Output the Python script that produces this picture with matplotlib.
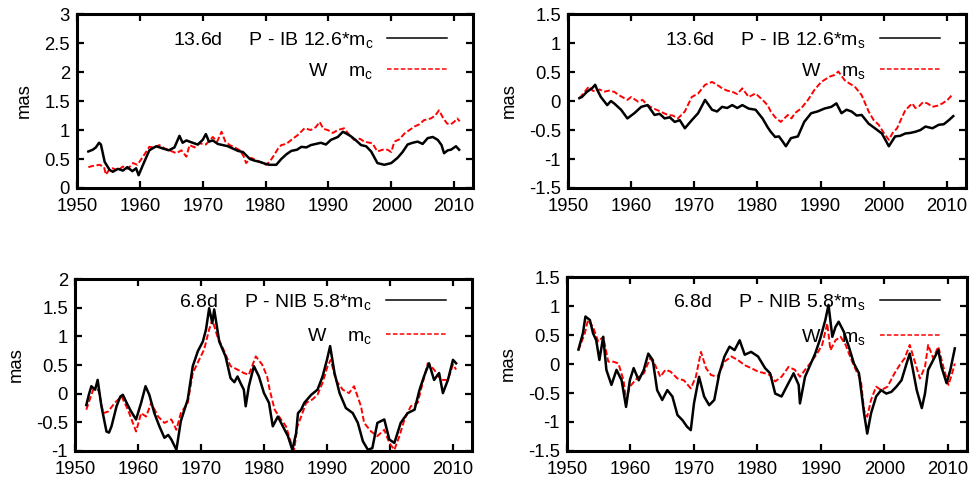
import matplotlib
matplotlib.use('Agg')
import matplotlib.pyplot as plt

plt.rcParams['font.family'] = ['Liberation Sans', 'DejaVu Sans']
plt.rcParams['font.size'] = 13.3

# (year, mas)
tl_black = [(1951.8, 0.63), (1952.5, 0.66), (1953.0, 0.70), (1953.5, 0.78), (1953.8, 0.75), (1954.4, 0.45),
            (1955.2, 0.31), (1955.7, 0.28), (1956.5, 0.33), (1957.3, 0.30), (1958.0, 0.36), (1958.8, 0.29),
            (1959.4, 0.34), (1959.8, 0.22), (1960.5, 0.40), (1961.5, 0.65), (1962.6, 0.72), (1963.7, 0.68),
            (1964.6, 0.65), (1965.5, 0.70), (1966.3, 0.90), (1966.8, 0.78), (1967.4, 0.82), (1968.4, 0.78),
            (1969.2, 0.75), (1970.0, 0.83), (1970.5, 0.93), (1971.0, 0.80), (1971.6, 0.82), (1972.4, 0.76),
            (1973.2, 0.74), (1974.0, 0.72), (1974.8, 0.68), (1975.6, 0.64), (1976.4, 0.62), (1977.5, 0.50),
            (1978.3, 0.47), (1979.1, 0.45), (1979.9, 0.42), (1980.6, 0.40), (1981.7, 0.40), (1982.5, 0.50),
            (1983.3, 0.58), (1984.1, 0.64), (1985.0, 0.66), (1985.7, 0.71), (1986.5, 0.70), (1987.2, 0.74),
            (1988.0, 0.76), (1988.8, 0.78), (1989.6, 0.75), (1990.4, 0.83), (1991.5, 0.88), (1992.3, 0.97),
            (1993.0, 0.93), (1993.6, 0.89), (1994.4, 0.82), (1995.2, 0.74), (1996.0, 0.72), (1996.8, 0.63),
            (1997.8, 0.43), (1998.9, 0.40), (2000.0, 0.43), (2001.0, 0.52), (2001.8, 0.62), (2002.6, 0.75),
            (2003.4, 0.78), (2004.2, 0.80), (2005.0, 0.76), (2005.8, 0.86), (2006.6, 0.88), (2007.4, 0.83),
            (2008.0, 0.74), (2008.4, 0.60), (2009.0, 0.65), (2009.5, 0.66), (2010.3, 0.72), (2010.8, 0.66)]
tl_red = [(1951.8, 0.36), (1952.5, 0.38), (1953.6, 0.40), (1954.3, 0.36), (1954.6, 0.23), (1955.2, 0.33),
          (1955.7, 0.34), (1956.5, 0.30), (1957.3, 0.37), (1958.1, 0.33), (1958.9, 0.43), (1959.6, 0.40),
          (1960.5, 0.54), (1961.5, 0.71), (1962.3, 0.70), (1963.1, 0.74), (1964.0, 0.68), (1964.7, 0.65),
          (1965.8, 0.60), (1966.6, 0.65), (1967.4, 0.54), (1967.9, 0.74), (1968.7, 0.70), (1969.5, 0.77),
          (1970.5, 0.75), (1971.6, 0.88), (1972.3, 0.80), (1973.0, 0.97), (1973.6, 0.80), (1974.3, 0.74),
          (1975.1, 0.70), (1975.9, 0.65), (1976.5, 0.55), (1976.9, 0.43), (1977.7, 0.52), (1978.5, 0.48),
          (1979.3, 0.44), (1980.1, 0.40), (1980.7, 0.46), (1981.2, 0.54), (1982.0, 0.68), (1982.5, 0.74),
          (1983.3, 0.76), (1984.1, 0.83), (1985.2, 0.92), (1986.2, 1.03), (1987.2, 1.00), (1988.0, 1.05),
          (1988.6, 1.14), (1989.2, 1.02), (1989.9, 1.00), (1990.7, 0.95), (1991.5, 1.00), (1992.5, 1.03),
          (1993.3, 0.92), (1994.1, 0.83), (1995.0, 0.85), (1995.7, 0.80), (1997.0, 0.77), (1997.8, 0.63),
          (1998.6, 0.66), (1999.4, 0.66), (2000.0, 0.62), (2000.5, 0.80), (2001.3, 0.84), (2002.1, 0.94),
          (2002.9, 1.00), (2003.7, 1.06), (2004.5, 1.10), (2005.2, 1.17), (2006.3, 1.20), (2007.0, 1.25),
          (2007.6, 1.34), (2008.3, 1.20), (2008.9, 1.11), (2009.5, 1.10), (2010.0, 1.14), (2010.5, 1.20),
          (2010.9, 1.15)]

tr_black = [(1951.8, 0.05), (1952.2, 0.07), (1953.0, 0.16), (1953.8, 0.22), (1954.3, 0.28), (1954.6, 0.20),
            (1955.2, 0.07), (1956.2, -0.07), (1956.8, 0.0), (1957.3, -0.04), (1958.4, -0.15), (1959.4, -0.30),
            (1960.5, -0.21), (1961.6, -0.10), (1962.6, -0.07), (1963.7, -0.24), (1964.5, -0.22), (1965.3, -0.30),
            (1966.1, -0.28), (1966.9, -0.36), (1967.7, -0.33), (1968.5, -0.47), (1969.6, -0.33), (1970.6, -0.21),
            (1971.7, 0.02), (1972.8, -0.15), (1973.6, -0.18), (1974.4, -0.10), (1975.2, -0.12), (1976.0, -0.07),
            (1976.8, -0.12), (1977.6, -0.07), (1978.6, -0.13), (1979.7, -0.15), (1980.8, -0.30), (1981.6, -0.45),
            (1982.1, -0.53), (1982.8, -0.62), (1983.4, -0.61), (1984.0, -0.70), (1984.5, -0.78), (1985.3, -0.64),
            (1986.4, -0.61), (1987.4, -0.36), (1988.5, -0.21), (1989.5, -0.18), (1990.6, -0.13), (1991.7, -0.10),
            (1992.5, -0.04), (1993.3, -0.21), (1994.1, -0.15), (1994.9, -0.18), (1995.7, -0.25), (1996.5, -0.24),
            (1997.6, -0.39), (1998.6, -0.47), (1999.7, -0.56), (2000.3, -0.68), (2000.8, -0.78), (2001.8, -0.61),
            (2002.6, -0.60), (2003.4, -0.56), (2004.2, -0.55), (2005.0, -0.53), (2005.8, -0.50), (2006.6, -0.44),
            (2007.7, -0.47), (2008.7, -0.41), (2009.5, -0.40), (2010.3, -0.33), (2011.0, -0.26)]
tr_red = [(1951.8, 0.05), (1952.2, 0.10), (1952.8, 0.18), (1953.3, 0.25), (1953.9, 0.18), (1954.4, 0.16),
          (1955.0, 0.20), (1955.7, 0.16), (1956.5, 0.18), (1957.3, 0.16), (1958.1, 0.10), (1958.9, 0.05),
          (1959.4, 0.02), (1960.0, 0.07), (1961.1, -0.01), (1961.8, 0.02), (1962.6, -0.07), (1963.4, -0.12),
          (1964.2, -0.16), (1965.0, -0.20), (1965.8, -0.24), (1966.6, -0.25), (1967.4, -0.30), (1968.5, -0.18),
          (1969.6, 0.07), (1970.6, 0.13), (1971.7, 0.28), (1972.8, 0.33), (1973.6, 0.28), (1974.4, 0.22),
          (1975.2, 0.18), (1976.0, 0.16), (1976.8, 0.12), (1977.6, 0.22), (1978.6, 0.07), (1979.7, 0.13),
          (1980.8, 0.02), (1981.6, -0.07), (1982.1, -0.18), (1982.8, -0.28), (1983.7, -0.36), (1984.8, -0.24),
          (1985.4, -0.30), (1985.9, -0.21), (1986.9, -0.13), (1988.0, 0.02), (1989.0, 0.19), (1990.1, 0.33),
          (1991.4, 0.42), (1992.2, 0.45), (1992.8, 0.51), (1993.8, 0.36), (1994.6, 0.30), (1995.4, 0.25),
          (1996.5, 0.10), (1997.6, -0.18), (1998.4, -0.33), (1999.2, -0.41), (2000.0, -0.55), (2000.8, -0.67),
          (2001.4, -0.55), (2002.1, -0.47), (2002.8, -0.30), (2003.4, -0.16), (2004.5, -0.04), (2005.0, -0.12),
          (2005.5, -0.10), (2006.2, -0.02), (2006.9, -0.04), (2007.7, -0.10), (2008.5, -0.08), (2009.3, -0.04),
          (2010.1, 0.02), (2010.6, 0.08), (2010.9, 0.13)]

bl_black = [(1951.8, -0.20), (1952.2, -0.02), (1952.6, 0.13), (1953.2, 0.07), (1953.6, 0.24), (1954.2, -0.22),
            (1955.0, -0.66), (1955.4, -0.68), (1955.8, -0.57), (1956.6, -0.22), (1957.2, -0.05), (1957.6, -0.02),
            (1958.2, -0.16), (1958.9, -0.31), (1959.7, -0.45), (1960.5, -0.16), (1961.2, 0.13), (1961.8, -0.02),
            (1962.6, -0.34), (1963.4, -0.57), (1964.2, -0.77), (1964.8, -0.72), (1965.3, -0.80), (1966.1, -0.98),
            (1966.8, -0.48), (1967.9, -0.10), (1968.7, 0.48), (1969.5, 0.74), (1970.3, 0.91), (1970.8, 1.12),
            (1971.3, 1.49), (1971.8, 1.23), (1972.1, 1.47), (1972.9, 0.91), (1973.9, 0.65), (1974.7, 0.27),
            (1975.3, 0.20), (1975.8, 0.30), (1976.3, 0.18), (1976.8, 0.07), (1977.1, -0.22), (1977.6, 0.13),
            (1978.4, 0.48), (1979.2, 0.30), (1980.0, 0.01), (1980.8, -0.16), (1981.4, -0.57), (1982.2, -0.40),
            (1983.0, -0.57), (1983.8, -0.74), (1984.5, -0.98), (1985.1, -0.69), (1985.4, -0.34), (1985.9, -0.28),
            (1986.4, -0.16), (1987.5, -0.02), (1988.5, 0.07), (1989.3, 0.30), (1990.0, 0.59), (1990.5, 0.83),
            (1991.2, 0.36), (1992.0, 0.01), (1993.0, -0.25), (1994.1, -0.34), (1994.9, -0.51), (1995.7, -0.83),
            (1996.5, -0.98), (1997.2, -0.95), (1998.0, -0.51), (1999.1, -0.45), (1999.9, -0.80), (2000.7, -0.86),
            (2001.7, -0.51), (2002.8, -0.34), (2003.9, -0.28), (2004.7, 0.07), (2005.4, 0.30), (2006.2, 0.53),
            (2007.0, 0.24), (2007.8, 0.36), (2008.4, 0.01), (2009.2, 0.24), (2010.0, 0.59), (2010.5, 0.53)]
bl_red = [(1951.8, -0.28), (1952.2, -0.15), (1952.9, 0.07), (1953.7, 0.07), (1954.5, -0.34), (1955.3, -0.31),
          (1956.3, -0.16), (1957.4, -0.05), (1958.4, -0.28), (1959.7, -0.66), (1960.5, -0.34), (1961.3, -0.40),
          (1962.1, -0.16), (1963.2, -0.40), (1964.2, -0.51), (1965.3, -0.45), (1966.1, -0.63), (1966.8, -0.34),
          (1967.9, -0.16), (1968.7, 0.36), (1969.7, 0.59), (1970.5, 0.77), (1971.3, 1.12), (1971.8, 1.29),
          (1972.6, 1.00), (1973.7, 0.74), (1974.7, 0.48), (1975.8, 0.42), (1976.8, 0.36), (1977.6, 0.33),
          (1978.7, 0.65), (1979.7, 0.51), (1980.5, 0.30), (1980.9, 0.07), (1981.7, -0.28), (1982.7, -0.45),
          (1983.5, -0.57), (1984.3, -0.86), (1984.8, -0.98), (1985.3, -0.57), (1985.9, -0.40), (1986.7, -0.16),
          (1987.7, -0.10), (1988.5, -0.02), (1989.3, 0.19), (1990.1, 0.48), (1990.6, 0.59), (1991.4, 0.24),
          (1992.5, 0.07), (1993.5, 0.01), (1994.3, 0.13), (1995.4, -0.22), (1995.9, -0.51), (1997.0, -0.66),
          (1998.0, -0.74), (1999.1, -0.63), (1999.9, -0.86), (2000.7, -0.98), (2001.5, -0.74), (2002.3, -0.45),
          (2003.3, -0.22), (2004.4, -0.16), (2005.2, 0.19), (2006.0, 0.53), (2007.0, 0.42), (2008.1, 0.24),
          (2009.2, 0.24), (2010.0, 0.51), (2010.5, 0.42)]

br_black = [(1951.8, 0.25), (1952.5, 0.53), (1952.9, 0.82), (1953.6, 0.76), (1954.1, 0.53), (1954.6, 0.41),
            (1955.1, 0.07), (1955.7, 0.47), (1956.2, -0.10), (1957.0, -0.36), (1957.8, -0.10), (1958.6, -0.28),
            (1959.3, -0.74), (1959.9, -0.28), (1960.5, -0.07), (1961.3, -0.28), (1962.1, -0.10), (1962.8, 0.18),
            (1963.5, 0.07), (1964.2, -0.45), (1965.0, -0.62), (1965.8, -0.45), (1966.6, -0.56), (1967.4, -0.88),
            (1968.2, -0.97), (1968.9, -1.08), (1969.5, -1.14), (1970.0, -0.68), (1970.8, -0.22), (1971.6, -0.56),
            (1972.4, -0.71), (1973.2, -0.62), (1974.0, -0.16), (1974.8, 0.13), (1975.6, 0.30), (1976.4, 0.24),
            (1977.2, 0.41), (1978.0, 0.16), (1979.0, 0.21), (1980.1, 0.13), (1981.2, -0.07), (1982.0, -0.16),
            (1982.8, -0.51), (1983.8, -0.56), (1984.6, -0.39), (1985.7, -0.16), (1986.5, -0.36), (1986.7, -0.68),
            (1987.5, -0.22), (1988.3, -0.02), (1989.1, 0.18), (1989.9, 0.44), (1990.7, 0.76), (1991.2, 1.02),
            (1991.8, 0.47), (1992.3, 0.64), (1992.8, 0.73), (1993.6, 0.56), (1994.4, 0.30), (1995.2, 0.01),
            (1996.0, -0.16), (1996.8, -0.85), (1997.3, -1.20), (1997.9, -0.85), (1998.7, -0.56), (1999.5, -0.45),
            (2000.3, -0.51), (2001.1, -0.48), (2001.9, -0.39), (2002.7, -0.28), (2003.5, 0.01), (2004.0, 0.18),
            (2004.5, -0.10), (2005.1, -0.45), (2005.9, -0.76), (2006.4, -0.51), (2006.9, -0.10), (2007.7, 0.07),
            (2008.5, 0.24), (2009.0, -0.05), (2009.8, -0.33), (2010.4, -0.10), (2011.1, 0.27)]
br_red = [(1951.8, 0.24), (1952.8, 0.53), (1953.3, 0.76), (1954.1, 0.64), (1954.9, 0.39), (1955.7, 0.47),
          (1956.5, 0.04), (1957.3, 0.04), (1958.1, 0.01), (1958.9, -0.28), (1959.3, -0.62), (1959.9, -0.39),
          (1961.0, -0.25), (1962.1, -0.16), (1963.1, 0.10), (1963.9, -0.02), (1964.7, -0.22), (1965.5, -0.10),
          (1966.3, -0.13), (1967.4, -0.25), (1968.4, -0.28), (1969.5, -0.42), (1970.3, -0.22), (1971.1, 0.21),
          (1971.9, -0.07), (1972.7, -0.19), (1973.7, -0.22), (1974.8, 0.04), (1975.9, 0.13), (1976.9, 0.07),
          (1978.0, -0.02), (1979.0, -0.07), (1980.1, -0.13), (1981.2, -0.16), (1982.0, -0.19), (1982.8, -0.30),
          (1983.8, -0.22), (1984.9, -0.05), (1985.9, -0.10), (1986.7, -0.22), (1987.5, -0.10), (1988.3, 0.01),
          (1989.4, 0.18), (1990.2, 0.33), (1991.0, 0.70), (1991.5, 0.24), (1992.3, 0.41), (1993.1, 0.47),
          (1993.9, 0.33), (1994.7, 0.10), (1995.5, -0.10), (1996.3, -0.28), (1996.8, -0.80), (1997.3, -0.91),
          (1997.9, -0.62), (1998.7, -0.39), (1999.5, -0.45), (2000.5, -0.39), (2001.6, -0.16), (2002.4, -0.02),
          (2003.2, 0.10), (2004.0, 0.33), (2004.8, 0.04), (2005.6, -0.25), (2006.4, -0.05), (2006.9, 0.33),
          (2007.7, 0.10), (2008.5, 0.30), (2009.3, -0.05), (2010.1, -0.36), (2010.6, -0.19), (2011.1, 0.01)]

xticks = [1950, 1960, 1970, 1980, 1990, 2000, 2010]

# panel: axes rect, black data, red data, ylim, yticks, key texts, key rows
panels = [
    ([0.0786, 0.6108, 0.404, 0.360], tl_black, tl_red, (0, 3), [0, 0.5, 1, 1.5, 2, 2.5, 3],
     '13.6d     P - IB 12.6*$\\mathregular{m_c}$', 'W    $\\mathregular{m_c}$', 0.85, 0.672),
    ([0.5796, 0.6108, 0.406, 0.360], tr_black, tr_red, (-1.5, 1.5), [-1.5, -1, -0.5, 0, 0.5, 1, 1.5],
     '13.6d     P - IB 12.6*$\\mathregular{m_s}$', 'W    $\\mathregular{m_s}$', 0.85, 0.672),
    ([0.0765, 0.0663, 0.405, 0.356], bl_black, bl_red, (-1, 2), [-1, -0.5, 0, 0.5, 1, 1.5, 2],
     '6.8d     P - NIB 5.8*$\\mathregular{m_c}$', 'W    $\\mathregular{m_c}$', 0.866, 0.67),
    ([0.5786, 0.0663, 0.408, 0.360], br_black, br_red, (-1.5, 1.5), [-1.5, -1, -0.5, 0, 0.5, 1, 1.5],
     '6.8d     P - NIB 5.8*$\\mathregular{m_s}$', 'W    $\\mathregular{m_s}$', 0.856, 0.655),
]

fig = plt.figure(figsize=(9.8, 4.83), dpi=100)

for rect, blk, red, ylim, yt, lab1, lab2, y1, y2 in panels:
    ax = fig.add_axes(rect)
    ax.plot([p[0] for p in blk], [p[1] for p in blk], color='black', lw=1.8, zorder=3)
    ax.plot([p[0] for p in red], [p[1] for p in red], color='red', lw=1.4, dashes=(3, 1.3), zorder=2)
    ax.set_xlim(1950, 2013)
    ax.set_ylim(*ylim)
    ax.set_xticks(xticks)
    ax.set_yticks(yt)
    ax.set_yticklabels(['%g' % v for v in yt])
    ax.tick_params(direction='in', length=5, width=1.6, top=True, right=True, pad=5)
    ax.tick_params(axis='x', pad=7)
    for s in ax.spines.values():
        s.set_linewidth(2.2)
    ax.set_ylabel('mas', labelpad=8)
    # gnuplot-style key
    ax.text(0.748, y1, lab1, transform=ax.transAxes, ha='right', va='center', fontsize=14)
    ax.text(0.748, y2, lab2, transform=ax.transAxes, ha='right', va='center', fontsize=14)
    ax.plot([0.783, 0.934], [y1 + 0.01, y1 + 0.01], transform=ax.transAxes, color='black', lw=1.1)
    ax.plot([0.783, 0.934], [y2 + 0.01, y2 + 0.01], transform=ax.transAxes, color='red', lw=1.1,
            dashes=(3, 1.5))

plt.savefig('out.png', dpi=100)
